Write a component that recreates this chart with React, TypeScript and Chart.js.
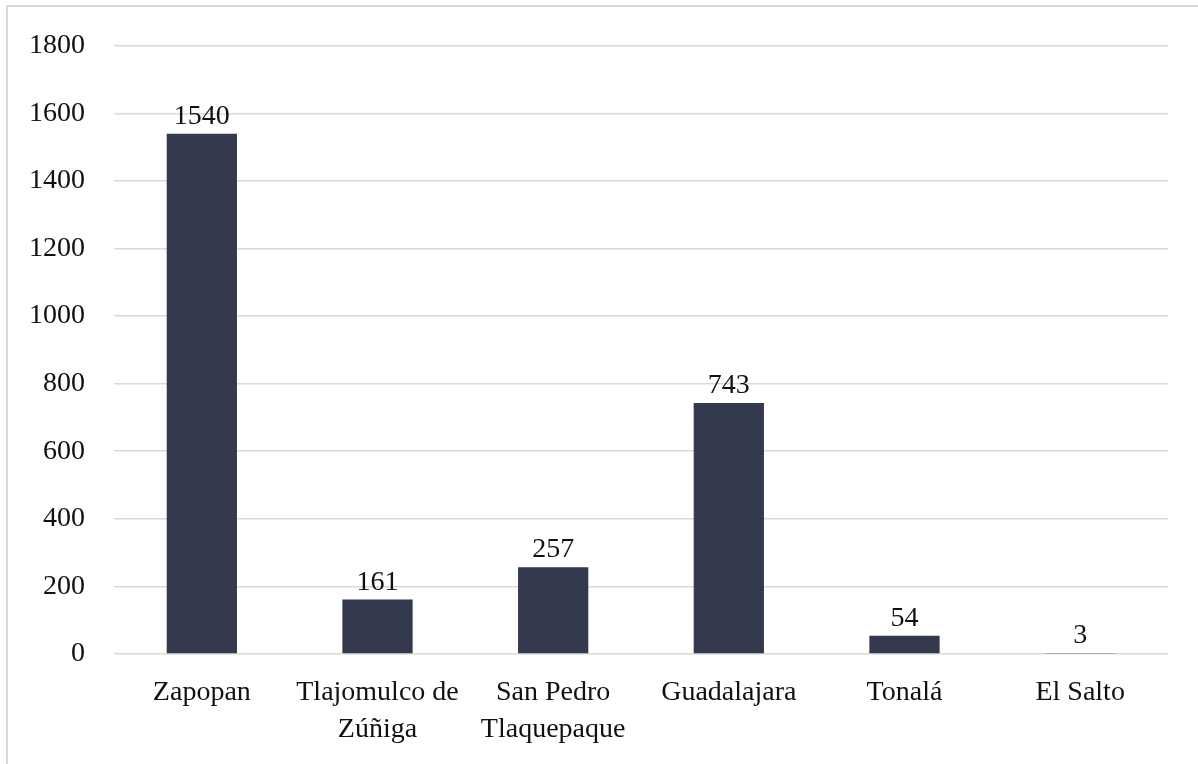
import React, { useEffect, useRef } from "react";
import { Chart, registerables } from "chart.js";

Chart.register(...registerables);

const categories: (string | string[])[] = [
  "Zapopan",
  ["Tlajomulco de", "Zúñiga"],
  ["San Pedro", "Tlaquepaque"],
  "Guadalajara",
  "Tonalá",
  "El Salto",
];
const values: number[] = [1540, 161, 257, 743, 54, 3];
const yMin = 0;
const yMax = 1800;
const yStep = 200;

const FONT = "'Liberation Serif', 'DejaVu Serif', serif";
const BAR_COLOR = "#333a4d";
const GRID_COLOR = "#d9d9d9";
const TEXT_COLOR = "#111111";

const valueLabels = {
  id: "valueLabels",
  afterDatasetsDraw(chart: any) {
    const ctx = chart.ctx;
    const meta = chart.getDatasetMeta(0);
    ctx.save();
    ctx.font = `28px ${FONT}`;
    ctx.fillStyle = TEXT_COLOR;
    ctx.textAlign = "center";
    ctx.textBaseline = "alphabetic";
    meta.data.forEach((bar: any, i: number) => {
      ctx.fillText(String(values[i]), bar.x, bar.y - 10);
    });
    ctx.restore();
  },
};

export default function App() {
  const ref = useRef<HTMLCanvasElement | null>(null);
  useEffect(() => {
    if (!ref.current) return;
    const chart = new Chart(ref.current, {
      type: "bar",
      data: {
        labels: categories,
        datasets: [
          {
            data: values,
            backgroundColor: BAR_COLOR,
            barPercentage: 0.8,
            categoryPercentage: 0.5,
          },
        ],
      },
      options: {
        animation: false,
        responsive: false,
        maintainAspectRatio: false,
        layout: { padding: { left: 0, right: 30, top: 37, bottom: 0 } },
        plugins: { legend: { display: false }, tooltip: { enabled: false } },
        scales: {
          x: {
            grid: { display: false, drawTicks: false },
            border: { display: false },
            ticks: {
              color: TEXT_COLOR,
              font: { family: FONT, size: 28, lineHeight: 1.29 },
              padding: 21,
              maxRotation: 0,
              autoSkip: false,
            },
            afterFit: (s: any) => {
              s.height = 110;
            },
          },
          y: {
            min: yMin,
            max: yMax,
            grid: { color: GRID_COLOR, lineWidth: 1.6, drawTicks: false },
            border: { display: false },
            ticks: {
              stepSize: yStep,
              color: TEXT_COLOR,
              font: { family: FONT, size: 28 },
              padding: 29,
              callback: (v: any) => String(v),
            },
            afterFit: (s: any) => {
              s.width = 114;
            },
          },
        },
      },
      plugins: [valueLabels],
    });
    return () => chart.destroy();
  }, []);
  return (
    <div
      style={{
        position: "fixed",
        left: 0,
        top: 0,
        width: 1198,
        height: 764,
        overflow: "hidden",
        background: "#ffffff",
      }}
    >
      <div
        style={{
          position: "absolute",
          left: 6,
          top: 5,
          width: 1220,
          height: 800,
          border: "2px solid #d9d9d9",
          boxSizing: "border-box",
        }}
      />
      <canvas
        ref={ref}
        width={1198}
        height={764}
        style={{ position: "absolute", left: 0, top: 0 }}
      />
    </div>
  );
}
